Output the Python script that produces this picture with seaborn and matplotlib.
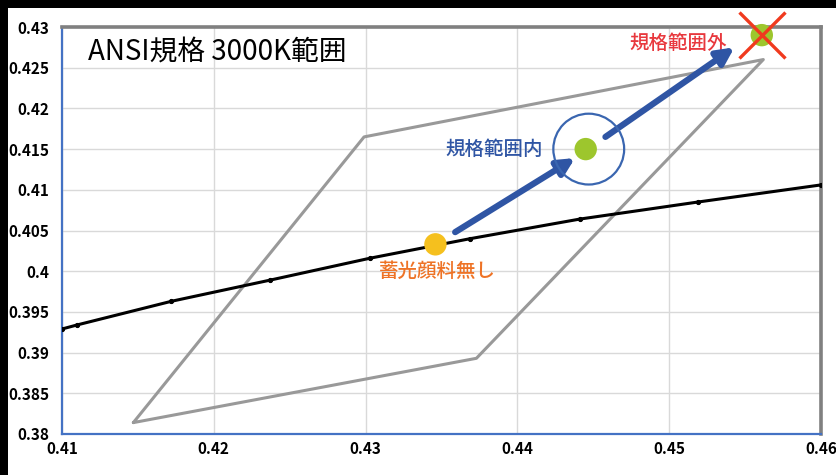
import numpy as np
import pandas as pd
import matplotlib
matplotlib.use("Agg")
import matplotlib.pyplot as plt
import seaborn as sns
from matplotlib.patches import Rectangle

# ---- data ----
locus_x = [0.4100, 0.4110, 0.4172, 0.4237, 0.4303, 0.4369, 0.4441, 0.4519, 0.4600]
locus_y = [0.3929, 0.3934, 0.3963, 0.3989, 0.4016, 0.4040, 0.4064, 0.4085, 0.4106]

# ANSI 3000K quadrangle (closed)
quad_x = [0.4147, 0.4299, 0.4562, 0.4373, 0.4147]
quad_y = [0.3814, 0.4165, 0.4260, 0.3893, 0.3814]

# measured points
pt_none = (0.4346, 0.4033)     # 蓄光顔料無し
pt_in = (0.4445, 0.4150)       # 規格範囲内
pt_out = (0.4561, 0.4290)      # 規格範囲外

# arrows (start, end)
arrow1 = ((0.4359, 0.4048), (0.4438, 0.4139))
arrow2 = ((0.4458, 0.4165), (0.4543, 0.4275))

x_ticks = [0.41, 0.42, 0.43, 0.44, 0.45, 0.46]
y_ticks = [0.38, 0.385, 0.39, 0.395, 0.40, 0.405, 0.41, 0.415, 0.42, 0.425, 0.43]
x_labels = ["0.41", "0.42", "0.43", "0.44", "0.45", "0.46"]
y_labels = ["0.38", "0.385", "0.39", "0.395", "0.4", "0.405", "0.41", "0.415", "0.42", "0.425", "0.43"]

sns.set_style("white")
plt.rcParams['font.family'] = ['Noto Sans CJK JP', 'DejaVu Sans']

fig = plt.figure(figsize=(8.37, 4.75), dpi=100, facecolor="white")
# black frame strips at top and left of the screenshot
fig.patches.append(Rectangle((0, 1 - 8 / 475), 1, 8 / 475, transform=fig.transFigure,
                             facecolor="black", edgecolor="none", zorder=0))
fig.patches.append(Rectangle((0, 0), 8 / 837, 1, transform=fig.transFigure,
                             facecolor="black", edgecolor="none", zorder=0))

ax = fig.add_axes([62 / 837, 1 - 434 / 475, (821 - 62) / 837, (434 - 27) / 475])

# grid
ax.set_xticks(x_ticks)
ax.set_yticks(y_ticks)
ax.grid(True, color="#d9d9d9", lw=1)
ax.set_axisbelow(True)

# Planckian locus
locus = pd.DataFrame({"x": locus_x, "y": locus_y})
sns.lineplot(data=locus, x="x", y="y", sort=False, estimator=None, color="black", lw=2.2,
             marker="o", markersize=3, markeredgecolor="black", ax=ax, zorder=3)

# quadrangle
quad = pd.DataFrame({"x": quad_x, "y": quad_y})
sns.lineplot(data=quad, x="x", y="y", sort=False, estimator=None, color="#999999",
             lw=2.2, ax=ax, zorder=2)

# arrows
for (s, e) in [arrow1, arrow2]:
    ax.annotate("", xy=e, xytext=s,
                arrowprops=dict(arrowstyle="-|>,head_length=1.0,head_width=0.5",
                                color="#2F55A4", lw=4.5, shrinkA=0, shrinkB=0),
                zorder=4)

# points
pts = pd.DataFrame({"x": [pt_none[0], pt_in[0], pt_out[0]],
                    "y": [pt_none[1], pt_in[1], pt_out[1]],
                    "k": ["none", "in", "out"]})
sns.scatterplot(data=pts, x="x", y="y", hue="k",
                palette={"none": "#F5C01E", "in": "#9DC62D", "out": "#9DC62D"},
                s=260, edgecolor="none", legend=False, ax=ax, zorder=5, clip_on=False)

# circle around in-spec point
ax.scatter([pt_in[0] + 0.0002], [pt_in[1]], s=2600, facecolors="none",
           edgecolors="#3A66B0", linewidths=1.6, zorder=5)
# red cross on out-of-spec point
ax.plot([pt_out[0]], [pt_out[1]], marker="x", markersize=33, mew=2.4,
        color="#F03A1E", zorder=6, clip_on=False)

# texts
ax.text(0.4117, 0.4269, "ANSI規格 3000K範囲", fontsize=20, color="black",
        ha="left", va="center")
ax.text(0.4506, 0.4280, "規格範囲外", fontsize=14, fontweight="medium", color="#E8383D",
        ha="center", va="center")
ax.text(0.4385, 0.4149, "規格範囲内", fontsize=14, fontweight="medium", color="#2F55A4",
        ha="center", va="center")
ax.text(0.4347, 0.4000, "蓄光顔料無し", fontsize=14, fontweight="medium", color="#EE7326",
        ha="center", va="center")

ax.set_xlim(0.41, 0.46)
ax.set_ylim(0.38, 0.43)
ax.set_xticklabels(x_labels, fontweight="bold", fontsize=11)
ax.set_yticklabels(y_labels, fontweight="bold", fontsize=11)
ax.set_xlabel("")
ax.set_ylabel("")
ax.tick_params(axis="both", direction="in", length=4, width=1.2, colors="#4472C4",
               labelcolor="black")
ax.tick_params(axis="y", pad=9)
ax.tick_params(axis="x", pad=5)

for side in ["left", "bottom"]:
    ax.spines[side].set_color("#4472C4")
    ax.spines[side].set_linewidth(1.6)
for side in ["top", "right"]:
    ax.spines[side].set_color("#808080")
    ax.spines[side].set_linewidth(2.6)

fig.savefig("out.png", dpi=100, facecolor="white")
